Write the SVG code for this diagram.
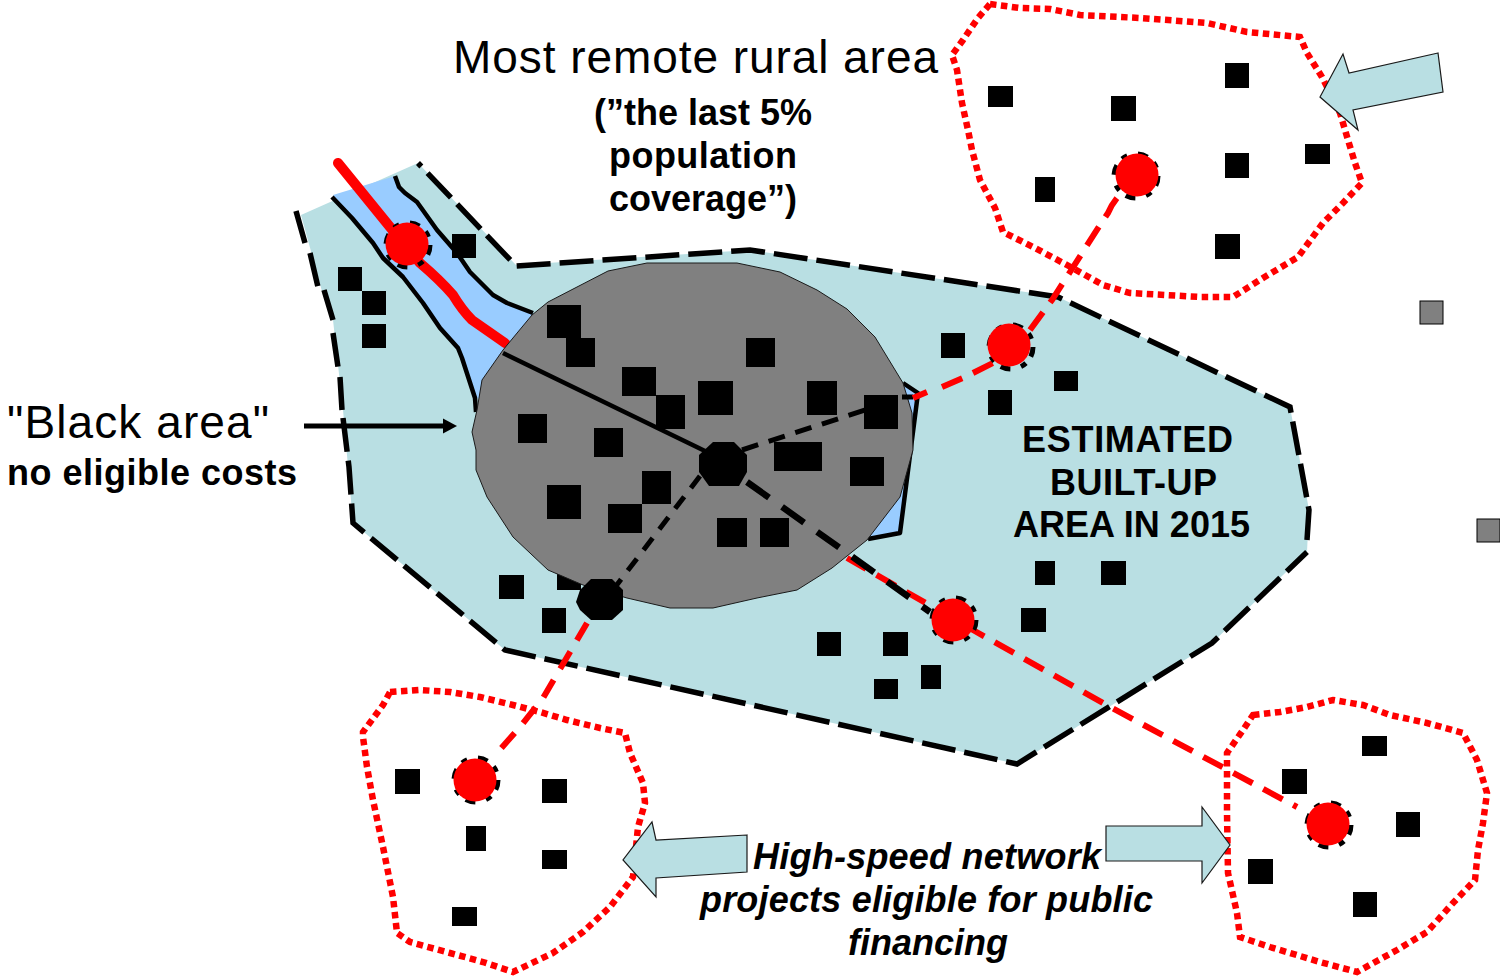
<svg xmlns="http://www.w3.org/2000/svg" width="1500" height="977" viewBox="0 0 1500 977">
<style>
text{font-family:"Liberation Sans",Arial,sans-serif;fill:#000}
.b{font-weight:bold}
.area{fill:#b9dfe3;stroke:none}
.edge{fill:none;stroke:#000;stroke-width:5.500;stroke-dasharray:34 9}
.river{fill:none;stroke:#000;stroke-width:4.500;stroke-linejoin:round}
.water{fill:#99ccff;stroke:none}
.rural{fill:none;stroke:#f00;stroke-width:6.500;stroke-dasharray:6.500 4.500}
.link{fill:none;stroke:#f00;stroke-width:6;stroke-dasharray:22 12}
.arrow{fill:#b9dfe3;stroke:#1a1a1a;stroke-width:1.200}
.ring{fill:none;stroke:#000;stroke-width:5;stroke-dasharray:10 8 6 11}
.red{fill:#f00}
.sq{fill:#000}
.grey{fill:#808080;stroke:#000;stroke-width:1}
</style>
<defs>
<marker id="ah" markerWidth="15" markerHeight="16" refX="1" refY="8" orient="auto" markerUnits="userSpaceOnUse"><path d="M0,0.500 L14,8 L0,15.500 Z" fill="#000"/></marker>
</defs>
<g id="built-up-area">
<path class="area" d="M301,215 L418,163 L516,265 L750,250 L1058,297 L1290,407 L1309,510 L1307,552 L1212,643 L1017,764 L505,650 L353,523 L343,410 L333,320 L323,295 Z"/>
<path class="edge" d="M296,211 L305,243 M310,253 L318,287 M324,290 L333,320 M333,333 L338,367 M340,377 L342,410 M343,418 L349,467 L353,523 L505,650 L1017,764 L1212,643 L1307,552 M1307,540 L1309,510 L1290,407 L1058,297 L750,250 L516,266 L418,163"/>
</g>
<g id="water">
<path class="water" d="M333,195 L395,176 L405,193 L417,202 L437,230 L457,253 L470,272 L493,295 L507,303 L533,313 L540,340 L500,400 L475,398 L462,358 L458,348 L440,328 L423,303 L403,277 L383,258 L373,243 L352,218 Z"/>
<path class="water" d="M903,383 L918,393 L900,533 L868,539 L880,460 Z"/>
<path class="river" d="M332,197 L352,218 L373,243 L383,258 L403,277 L423,303 L440,328 L458,348 L462,358 L475,398 L476,412"/>
<path class="river" d="M395,176 L399,187 L405,193 L417,202 L437,230 L457,253 L470,272 L493,295 L507,303 L533,313"/>
<path class="river" d="M903,383 L918,393 L900,533 L868,539"/>
</g>
<g id="railway">
<path d="M338,163 L390,227 L420,263 Q440,280 453,295 Q462,310 472,320 L505,343" fill="none" stroke="#f00" stroke-width="10" stroke-linejoin="round" stroke-linecap="round"/>
</g>
<rect class="sq" x="557" y="565" width="24" height="25"/>
<g id="black-area">
<path d="M647,263 L737,263 L780,272 L817,290 L847,309 L875,337 L903,383 L912,413 L913,450 L900,497 L867,540 L832,568 L797,590 L757,598 L713,608 L670,608 L627,598 L583,585 L548,570 L513,537 L487,497 L476,470 L476,450 L472,432 L477,410 L482,380 L503,350 L532,315 L548,302 L577,287 L608,271 Z" fill="#808080" stroke="#1a1a1a" stroke-width="1"/>
</g>
<g id="connectors">
<path d="M503,353 L705,451" fill="none" stroke="#000" stroke-width="4.500"/>
<path d="M742,450 L865,410" fill="none" stroke="#000" stroke-width="5" stroke-dasharray="17 11"/>
<path d="M902,397 H913" fill="none" stroke="#000" stroke-width="5"/>
<path d="M700,476 L616,586" fill="none" stroke="#000" stroke-width="5" stroke-dasharray="15 11"/>
<path class="link" d="M913,398 L927,392 M942,387 L963,378 M973,373 L993,363"/>
<path class="link" d="M1030,330 L1052,300 L1070,272 L1100,225 L1108,213 Q1114,199 1125,190"/>
<path class="link" d="M847,558 L973,630 L1112,708 L1297,807"/>
<path class="link" style="stroke-dasharray:20 13" d="M587,623 L543,698 L520,727 L497,753"/>
<path d="M747,482 L930,612" fill="none" stroke="#000" stroke-width="6.500" stroke-dasharray="27 16"/>
</g>
<g id="squares">
<rect class="sq" x="338" y="267" width="24" height="24"/><rect class="sq" x="362" y="291" width="24" height="24"/><rect class="sq" x="362" y="324" width="24" height="24"/><rect class="sq" x="452" y="234" width="24" height="24"/>
<rect class="sq" x="547" y="305" width="34" height="33"/><rect class="sq" x="566" y="338" width="29" height="29"/><rect class="sq" x="622" y="367" width="34" height="29"/><rect class="sq" x="656" y="395" width="29" height="34"/><rect class="sq" x="698" y="381" width="35" height="34"/><rect class="sq" x="746" y="338" width="29" height="29"/><rect class="sq" x="807" y="381" width="30" height="34"/><rect class="sq" x="864" y="395" width="34" height="34"/><rect class="sq" x="518" y="414" width="29" height="29"/><rect class="sq" x="594" y="428" width="29" height="29"/><rect class="sq" x="774" y="442" width="48" height="29"/><rect class="sq" x="850" y="457" width="34" height="29"/><rect class="sq" x="547" y="485" width="34" height="34"/><rect class="sq" x="642" y="471" width="29" height="33"/><rect class="sq" x="608" y="504" width="34" height="29"/><rect class="sq" x="717" y="518" width="30" height="29"/><rect class="sq" x="760" y="518" width="29" height="29"/>
<rect class="sq" x="941" y="333" width="24" height="25"/><rect class="sq" x="1054" y="371" width="24" height="20"/><rect class="sq" x="988" y="390" width="24" height="25"/><rect class="sq" x="1035" y="561" width="20" height="24"/><rect class="sq" x="1101" y="561" width="25" height="24"/><rect class="sq" x="1021" y="608" width="25" height="24"/>
<rect class="sq" x="817" y="632" width="24" height="24"/><rect class="sq" x="883" y="632" width="25" height="24"/><rect class="sq" x="921" y="665" width="20" height="24"/><rect class="sq" x="874" y="679" width="24" height="20"/>
<rect class="sq" x="499" y="575" width="25" height="24"/><rect class="sq" x="542" y="608" width="24" height="25"/>
<rect class="sq" x="1225" y="63" width="24" height="25"/><rect class="sq" x="988" y="86" width="25" height="21"/><rect class="sq" x="1111" y="96" width="25" height="25"/><rect class="sq" x="1035" y="177" width="20" height="25"/><rect class="sq" x="1225" y="153" width="24" height="25"/><rect class="sq" x="1305" y="144" width="25" height="20"/><rect class="sq" x="1215" y="234" width="25" height="25"/>
<rect class="sq" x="395" y="769" width="25" height="25"/><rect class="sq" x="542" y="779" width="25" height="24"/><rect class="sq" x="466" y="826" width="20" height="25"/><rect class="sq" x="542" y="850" width="25" height="19"/><rect class="sq" x="452" y="907" width="25" height="19"/>
<rect class="sq" x="1362" y="736" width="25" height="20"/><rect class="sq" x="1282" y="769" width="25" height="25"/><rect class="sq" x="1396" y="812" width="24" height="25"/><rect class="sq" x="1248" y="859" width="25" height="25"/><rect class="sq" x="1353" y="892" width="24" height="25"/>
<rect class="grey" x="1420" y="301" width="23" height="23"/><rect class="grey" x="1477" y="519" width="23" height="23"/>
</g>
<g id="rural-areas">
<path class="rural" d="M990,4 L1020,8 L1050,9 L1080,15 L1140,18 L1207,23 L1247,32 L1300,37 L1307,53 L1322,77 L1340,113 L1348,140 L1355,163 L1362,183 L1343,203 L1323,223 L1298,257 L1263,278 L1233,297 L1200,297 L1130,293 L1103,285 L1067,265 L1033,247 L1003,232 L995,208 L980,180 L972,150 L968,130 L962,103 L957,70 L952,55 L963,40 L978,18 Z"/>
<path class="rural" d="M390,692 L420,690 L450,692 L480,697 L513,705 L540,712 L567,720 L600,728 L625,733 L630,753 L643,783 L645,803 L638,827 L633,877 L610,907 L583,932 L553,953 L513,972 L483,962 L450,953 L410,942 L397,933 L393,897 L383,847 L373,800 L367,767 L363,737 L363,732 L383,705 Z"/>
<path class="rural" d="M1253,715 L1280,712 L1307,707 L1333,700 L1363,705 L1390,715 L1427,723 L1463,733 L1477,760 L1487,793 L1483,823 L1478,850 L1475,880 L1453,903 L1427,932 L1397,950 L1357,972 L1320,962 L1270,947 L1240,937 L1237,913 L1228,873 L1227,813 L1227,753 L1243,730 Z"/>
</g>
<g id="nodes">
<g id="node-river"><circle class="ring" cx="408" cy="245" r="22"/><circle class="red" cx="407" cy="244" r="21.500"/></g>
<g id="node-east"><circle class="ring" cx="1011" cy="347" r="22"/><circle class="red" cx="1009" cy="345" r="21.500"/></g>
<g id="node-south"><circle class="ring" cx="954" cy="620" r="22"/><circle class="red" cx="953" cy="620" r="21.500"/></g>
<g id="node-top"><circle class="ring" cx="1136" cy="176" r="22"/><circle class="red" cx="1137" cy="175" r="21.500"/></g>
<g id="node-left"><circle class="ring" cx="476" cy="780" r="22"/><circle class="red" cx="475" cy="780" r="21.500"/></g>
<g id="node-right"><circle class="ring" cx="1329" cy="825" r="22"/><circle class="red" cx="1328" cy="824" r="21.500"/></g>
<g id="node-hub"><polygon points="713,442 734,442 747,455 747,472 739,486 709,486 699,472 699,455" fill="#000"/></g>
<g id="node-sw"><polygon points="591,579 612,579 623,590 623,610 612,620 591,620 580,610 576,602 580,590" fill="#000"/></g>
</g>
<g id="arrows">
<path class="arrow" d="M1438,53 L1349,73 L1343,54 L1320,97 L1358,130 L1353,110 L1443,92 Z"/>
<path class="arrow" d="M747,835 L656,840 L652,822 L623,860 L656,897 L656,878 L747,872 Z"/>
<path class="arrow" d="M1106,826 L1202,826 L1202,807 L1230,845 L1202,883 L1202,861 L1106,861 Z"/>
<path d="M304,426 L444,426" fill="none" stroke="#000" stroke-width="5" marker-end="url(#ah)"/>
</g>
<g id="labels">
<text x="453" y="73" font-size="46" textLength="485">Most remote rural area</text>
<g class="b" font-size="36" text-anchor="middle">
<text x="703" y="125" textLength="218">(”the last 5%</text>
<text x="703" y="168" textLength="188">population</text>
<text x="703" y="211" textLength="188">coverage”)</text>
</g>
<text x="7" y="438" font-size="46" textLength="262">"Black area"</text>
<text class="b" x="7" y="485" font-size="36" textLength="290">no eligible costs</text>
<g class="b" font-size="36">
<text x="1022" y="452" textLength="211">ESTIMATED</text>
<text x="1050" y="495" textLength="167">BUILT-UP</text>
<text x="1013" y="537" textLength="237">AREA IN 2015</text>
</g>
<g class="b" font-size="36" font-style="italic">
<text x="753" y="869" textLength="348">High-speed network</text>
<text x="700" y="912" textLength="453">projects eligible for public</text>
<text x="848" y="955" textLength="160">financing</text>
</g>
</g>
</svg>
